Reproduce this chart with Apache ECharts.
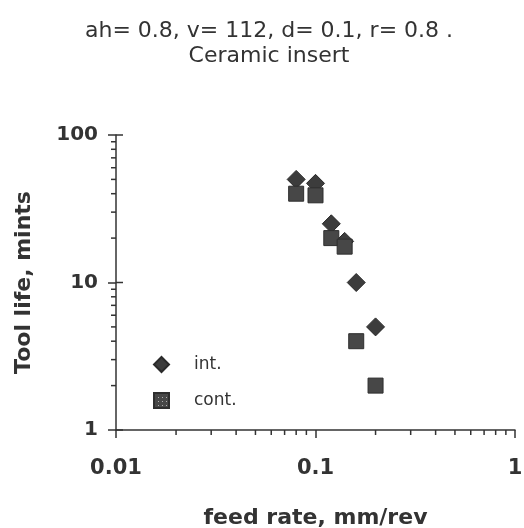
<!DOCTYPE html>
<html>
<head>
<meta charset="utf-8">
<script src="https://cdn.jsdelivr.net/npm/echarts@6/dist/echarts.min.js"></script>
<style>html,body{margin:0;padding:0;background:#fff;}#c{width:524px;height:528px;}</style>
</head>
<body>
<div id="c"></div>
<script>
// Data
const titleLines = ['ah= 0.8, v= 112, d= 0.1, r= 0.8 .', 'Ceramic insert'];
const xName = 'feed rate, mm/rev';
const yName = 'Tool life, mints';
const seriesNames = ['int.', 'cont.'];
const feedInt = [0.08, 0.1, 0.12, 0.14, 0.16, 0.2];
const lifeInt = [50, 47, 25, 19, 10, 5];
const feedCont = [0.08, 0.1, 0.12, 0.14, 0.16, 0.2];
const lifeCont = [40, 39, 20, 17.5, 4, 2];
const xMinorTicks = [0.02,0.03,0.04,0.05,0.06,0.07,0.08,0.09,0.2,0.3,0.4,0.5,0.6,0.7,0.8,0.9];
const yMinorTicks = [2,3,4,5,6,7,8,9,20,30,40,50,60,70,80,90];
const yMajorTicks = [1, 10, 100];

const FONT = 'DejaVu Sans';
const INK = '#333';
const chart = echarts.init(document.getElementById('c'), null, {renderer: 'canvas'});

function zip(a, b) { return a.map((v, i) => [v, b[i]]); }

chart.setOption({
  animation: false,
  backgroundColor: '#fff',
  textStyle: {fontFamily: FONT},
  graphic: [
    {type: 'text', style: {text: titleLines[0], x: 269, y: 31, align: 'center', verticalAlign: 'middle', font: '22px "DejaVu Sans"', fill: '#333'}},
    {type: 'text', style: {text: titleLines[1], x: 269, y: 56, align: 'center', verticalAlign: 'middle', font: '22px "DejaVu Sans"', fill: '#333'}}
  ],
  grid: {left: 116, right: 9, top: 135, bottom: 98, containLabel: false, outerBoundsMode: 'none'},
  legend: {
    orient: 'vertical', left: 153, top: 356, padding: 0, itemGap: 19,
    itemWidth: 15, itemHeight: 15,
    textStyle: {fontFamily: FONT, fontSize: 17, color: INK, padding: [0, 0, 0, 20]},
    data: seriesNames
  },
  xAxis: {
    type: 'log', logBase: 10, min: 0.01, max: 1,
    name: xName, nameLocation: 'middle', nameGap: 77,
    nameTextStyle: {fontFamily: FONT, fontSize: 22, fontWeight: 'bold', color: INK},
    axisLine: {lineStyle: {color: INK, width: 1.5}},
    axisTick: {length: 8, lineStyle: {color: INK, width: 1.5}},
    axisLabel: {fontFamily: FONT, fontSize: 21, fontWeight: 'bold', color: INK, margin: 28},
    splitLine: {show: false}
  },
  yAxis: {
    type: 'log', logBase: 10, min: 1, max: 100,
    name: yName, nameLocation: 'middle', nameGap: 81,
    nameTextStyle: {fontFamily: FONT, fontSize: 22, fontWeight: 'bold', color: INK},
    axisLine: {lineStyle: {color: INK, width: 1.5}},
    axisTick: {length: 8, lineStyle: {color: INK, width: 1.5}},
    axisLabel: {fontFamily: FONT, fontSize: 20, fontWeight: 'bold', color: INK, margin: 18},
    splitLine: {show: false}
  },
  series: [
    {
      name: seriesNames[0], type: 'scatter', symbol: 'diamond', symbolSize: 18,
      itemStyle: {color: '#3c3c3c', borderColor: '#2a2a2a', borderWidth: 1, opacity: 1},
      data: zip(feedInt, lifeInt), z: 3
    },
    {
      name: seriesNames[1], type: 'scatter', symbol: 'rect', symbolSize: 15,
      itemStyle: {
        color: '#474747', borderColor: '#2e2e2e', borderWidth: 1, opacity: 1,
        decal: {symbol: 'rect', symbolSize: 1, color: 'rgba(220,220,220,0.7)', dashArrayX: [[1, 3]], dashArrayY: [1, 3]}
      },
      data: zip(feedCont, lifeCont), z: 4
    },
    {
      type: 'custom', silent: true, clip: false, z: 5,
      data: yMinorTicks.map(v => [0.01, v]),
      renderItem: function (params, api) {
        const p = api.coord([api.value(0), api.value(1)]);
        return {type: 'line', shape: {x1: p[0] - 5, y1: p[1], x2: p[0], y2: p[1]}, style: {stroke: INK, lineWidth: 1.5}};
      }
    },
    {
      type: 'custom', silent: true, clip: false, z: 5,
      data: yMajorTicks.map(v => [0.01, v]),
      renderItem: function (params, api) {
        const p = api.coord([api.value(0), api.value(1)]);
        return {type: 'line', shape: {x1: p[0], y1: p[1], x2: p[0] + 7, y2: p[1]}, style: {stroke: INK, lineWidth: 1.5}};
      }
    },
    {
      type: 'custom', silent: true, clip: false, z: 5,
      data: xMinorTicks.map(v => [v, 1]),
      renderItem: function (params, api) {
        const p = api.coord([api.value(0), api.value(1)]);
        return {type: 'line', shape: {x1: p[0], y1: p[1], x2: p[0], y2: p[1] + 5}, style: {stroke: INK, lineWidth: 1.5}};
      }
    }
  ]
});
</script>
</body>
</html>
